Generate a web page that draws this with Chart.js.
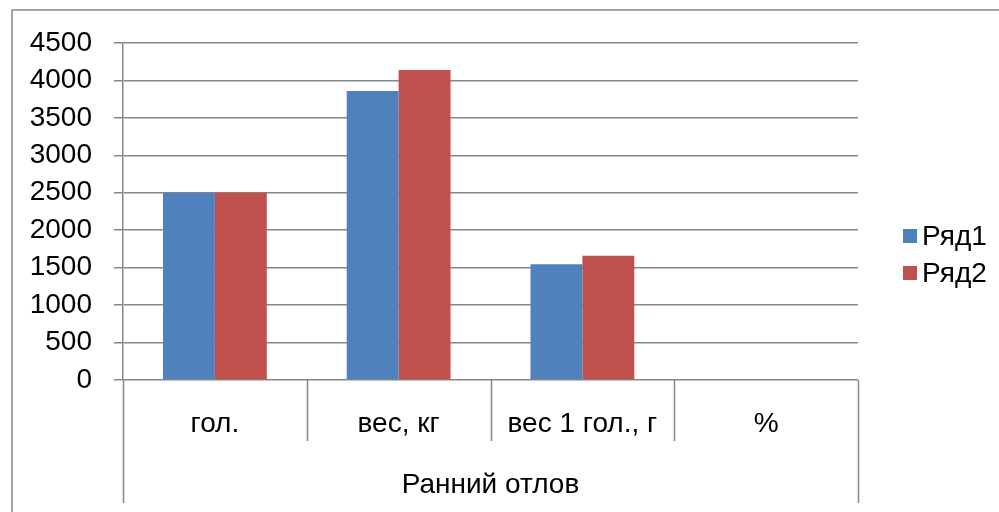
<!DOCTYPE html>
<html>
<head>
<meta charset="utf-8">
<script src="https://cdn.jsdelivr.net/npm/chart.js@4/dist/chart.umd.min.js"></script>
<style>
  html, body { margin: 0; padding: 0; background: #fff; }
  #wrap { width: 999px; height: 512px; }
</style>
</head>
<body>
<div id="wrap"><canvas id="chart" width="999" height="512"></canvas></div>
<script>
const categories = ["гол.", "вес, кг", "вес 1 гол., г", "%"];
const groupLabel = "Ранний отлов";
const seriesNames = ["Ряд1", "Ряд2"];
const series1 = [2500, 3860, 1545, 0];
const series2 = [2500, 4140, 1660, 0];
const yTicks = [0, 500, 1000, 1500, 2000, 2500, 3000, 3500, 4000, 4500];

const gray = "#878787";
const font = "'Liberation Sans', Arial, sans-serif";

// multi-level category axis, legend and outer frame, the way Excel draws them
const excelAxis = {
  id: "excelAxis",
  beforeDraw(chart) {
    const ctx = chart.ctx;
    ctx.save();
    ctx.fillStyle = "#fff";
    ctx.fillRect(0, 0, chart.width, chart.height);
    ctx.strokeStyle = gray;
    ctx.lineWidth = 1.5;
    ctx.strokeRect(12, 10, 1200, 700);
    ctx.restore();
  },
  afterDraw(chart) {
    const ctx = chart.ctx;
    const area = chart.chartArea;
    const step = (area.right - area.left) / categories.length;
    ctx.save();
    ctx.strokeStyle = gray;
    ctx.lineWidth = 1.5;
    for (let i = 0; i <= categories.length; i++) {
      const px = Math.round(area.left + step * i) + 0.5;
      const outer = i === 0 || i === categories.length;
      ctx.beginPath();
      ctx.moveTo(px, area.bottom);
      ctx.lineTo(px, outer ? 503 : 441);
      ctx.stroke();
    }
    ctx.fillStyle = "#000";
    ctx.font = "28px " + font;
    ctx.textAlign = "center";
    ctx.textBaseline = "middle";
    ctx.fillText(groupLabel, (area.left + area.right) / 2, 485);

    // legend
    ctx.textAlign = "left";
    chart.data.datasets.forEach((ds, i) => {
      const cy = 236 + i * 37;
      ctx.fillStyle = ds.backgroundColor;
      ctx.fillRect(903, cy - 7, 14, 14);
      ctx.fillStyle = "#000";
      ctx.fillText(ds.label, 922, cy + 1);
    });
    ctx.restore();
  }
};

new Chart(document.getElementById("chart"), {
  type: "bar",
  data: {
    labels: categories,
    datasets: [
      { label: seriesNames[0], data: series1, backgroundColor: "#4F81BD" },
      { label: seriesNames[1], data: series2, backgroundColor: "#C0504D" }
    ]
  },
  options: {
    responsive: false,
    animation: false,
    devicePixelRatio: 1,
    layout: { padding: { top: 43, right: 141, left: 0, bottom: 0 } },
    datasets: { bar: { categoryPercentage: 0.565, barPercentage: 1.0 } },
    scales: {
      x: {
        grid: { display: false },
        border: { display: false },
        ticks: { color: "#000", font: { family: font, size: 28 }, padding: 19, maxRotation: 0, autoSkip: false },
        afterFit(scale) { scale.height = 132; }
      },
      y: {
        min: 0,
        max: 4500,
        afterBuildTicks(scale) { scale.ticks = yTicks.map(v => ({ value: v })); },
        grid: { color: gray, lineWidth: 1.5, tickLength: 9 },
        border: { color: gray, width: 1.5 },
        ticks: {
          color: "#000",
          font: { family: font, size: 28 },
          padding: 22,
          callback: v => String(v)
        },
        afterFit(scale) { scale.width = 123; }
      }
    },
    plugins: {
      legend: { display: false },
      tooltip: { enabled: false }
    }
  },
  plugins: [excelAxis]
});
</script>
</body>
</html>
